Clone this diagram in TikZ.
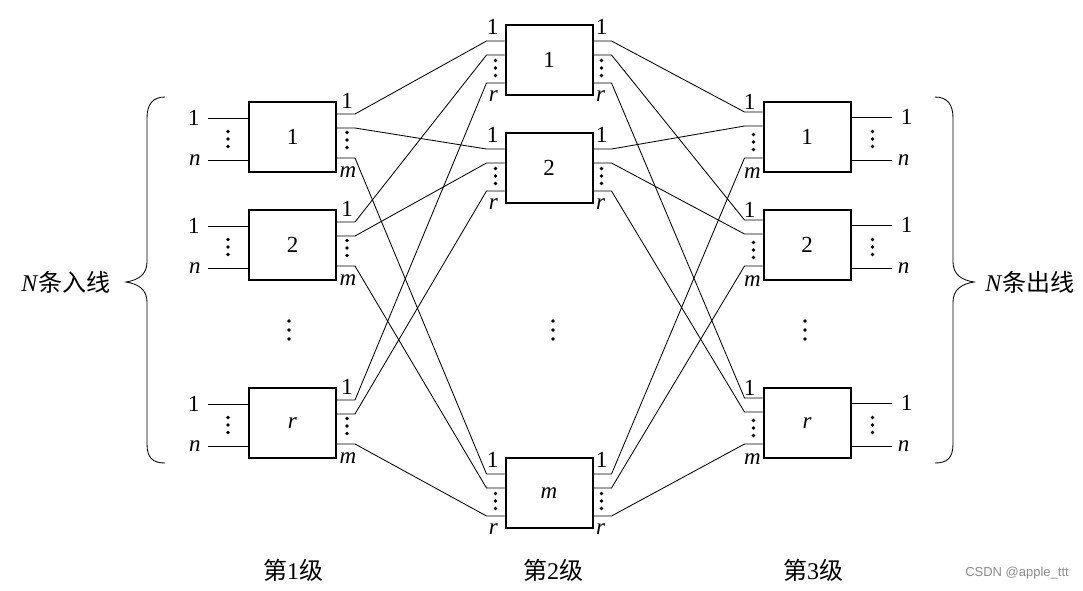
\documentclass[tikz,border=0pt]{standalone}
\usepackage{fontspec}
\setmainfont{Liberation Serif}
\newfontfamily\cjk{Noto Sans CJK SC}
\newfontfamily\wmfont{Liberation Sans}
\usetikzlibrary{calc,positioning}
\begin{document}
\begin{tikzpicture}[x=1pt,y=-1pt,
 box/.style={draw,line width=2pt,minimum width=87pt,minimum height=70pt,inner sep=0pt,font=\fontsize{23}{27}\selectfont},
 wire/.style={line width=0.85pt},
 lab/.style={inner sep=0pt,font=\fontsize{23}{27}\selectfont},
 cjklab/.style={inner sep=0pt,font=\fontsize{24}{28}\selectfont},
 vd/.pic={\fill (0,-7.5) circle (1.8pt); \fill (0,0) circle (1.8pt); \fill (0,7.5) circle (1.8pt);},
 vdw/.pic={\fill (0,-9) circle (1.8pt); \fill (0,0) circle (1.8pt); \fill (0,9) circle (1.8pt);}
]
\useasboundingbox (0,0) rectangle (1083,590);
\fill[white] (0,0) rectangle (1083,590);

% boxes
\foreach \i/\yc/\t in {1/137/1,2/245/2,3/423/\textit{r}} {
  \node[box] (A\i) at (292.5,\yc) {\t};
  \node[box] (C\i) at (807,\yc) {\t};
}
\foreach \i/\yc/\t in {1/60/1,2/168/2,3/493/\textit{m}} {
  \node[box] (B\i) at (549,\yc) {\t};
}

% ports
\foreach \i in {1,2,3} {
  \foreach \j/\d in {1/-23,2/-9,3/21} {
    \coordinate (A\i o\j) at ($(A\i.east)+(0,\d)$);
    \coordinate (A\i s\j) at ($(A\i.east)+(18,\d)$);
  }
  \foreach \j/\d in {1/-25,2/-11,3/21} {
    \coordinate (C\i o\j) at ($(C\i.west)+(0,\d)$);
    \coordinate (C\i s\j) at ($(C\i.west)+(-18,\d)$);
  }
  \foreach \j/\d in {1/-19,2/-5,3/23} {
    \coordinate (B\i i\j) at ($(B\i.west)+(0,\d)$);
    \coordinate (B\i t\j) at ($(B\i.west)+(-18,\d)$);
    \coordinate (B\i o\j) at ($(B\i.east)+(0,\d)$);
    \coordinate (B\i s\j) at ($(B\i.east)+(18,\d)$);
  }
  % input / output lines
  \coordinate (A\i a1) at ($(A\i.west)+(0,-19)$);
  \coordinate (A\i b1) at ($(A\i.west)+(-40,-19)$);
  \coordinate (A\i a2) at ($(A\i.west)+(0,23)$);
  \coordinate (A\i b2) at ($(A\i.west)+(-40,23)$);
  \coordinate (C\i a1) at ($(C\i.east)+(0,-20)$);
  \coordinate (C\i b1) at ($(C\i.east)+(40,-20)$);
  \coordinate (C\i a2) at ($(C\i.east)+(0,23)$);
  \coordinate (C\i b2) at ($(C\i.east)+(40,23)$);
  \draw[wire] (A\i a1) -- (A\i b1) node[lab,left=8pt] {1};
  \draw[wire] (A\i a2) -- (A\i b2) node[lab,left=7pt] {\textit{n}};
  \draw[wire] (C\i a1) -- (C\i b1) node[lab,right=9pt] {1};
  \draw[wire] (C\i a2) -- (C\i b2) node[lab,right=6pt] {\textit{n}};
  % port labels
  \node[lab] at ($(A\i.north east)+(10,0)$) {1};
  \node[lab] at ($(A\i.south east)+(11,-1)$) {\textit{m}};
  \node[lab] at ($(C\i.north west)+(-13,1)$) {1};
  \node[lab] at ($(C\i.south west)+(-10,0)$) {\textit{m}};
  \node[lab] at ($(B\i.north west)+(-12,3)$) {1};
  \node[lab] at ($(B\i.south west)+(-11,0)$) {\textit{r}};
  \node[lab] at ($(B\i.north east)+(8,3)$) {1};
  \node[lab] at ($(B\i.south east)+(7,0)$) {\textit{r}};
  % dots
  \pic at ($(A\i.west)+(-20,2)$) {vd};
  \pic at ($(A\i.east)+(10,3)$) {vd};
  \pic at ($(B\i.west)+(-9,8)$) {vd};
  \pic at ($(B\i.east)+(8,8)$) {vd};
  \pic at ($(C\i.west)+(-9,5)$) {vd};
  \pic at ($(C\i.east)+(21,2)$) {vd};
}

% interconnections
\foreach \i in {1,2,3} {
  \foreach \j in {1,2,3} {
    \draw[wire] (A\i o\j) -- (A\i s\j) -- (B\j t\i) -- (B\j i\i);
    \draw[wire] (B\i o\j) -- (B\i s\j) -- (C\j s\i) -- (C\j o\i);
  }
}

% middle dots
\pic at (289,330) {vdw};
\pic at (553,330) {vdw};
\pic at (805,330) {vdw};

% braces
\draw[wire] (165,97) .. controls (153,97) and (147,104) .. (147,118) -- (147,262)
  .. controls (147,274) and (139,280) .. (126,282)
  .. controls (139,284) and (147,290) .. (147,302) -- (147,444)
  .. controls (147,458) and (153,463) .. (165,463);
\draw[wire] (935,97) .. controls (947,97) and (953,104) .. (953,118) -- (953,262)
  .. controls (953,274) and (961,280) .. (974,282)
  .. controls (961,284) and (953,290) .. (953,302) -- (953,444)
  .. controls (953,458) and (947,463) .. (935,463);

\node[cjklab] (inl) at (66,282) {\textit{N}{\cjk 条入线}};
\node[cjklab] (outl) at (1030,282) {\textit{N}{\cjk 条出线}};

\node[cjklab] (st1) at (293,570) {{\cjk 第}1{\cjk 级}};
\node[cjklab] (st2) at (553,570) {{\cjk 第}2{\cjk 级}};
\node[cjklab] (st3) at (813,570) {{\cjk 第}3{\cjk 级}};

\node[inner sep=0pt,text=black!45,font=\wmfont\fontsize{13}{15}\selectfont] (wm) at (1017,573) {CSDN @apple\_ttt};
\end{tikzpicture}
\end{document}
